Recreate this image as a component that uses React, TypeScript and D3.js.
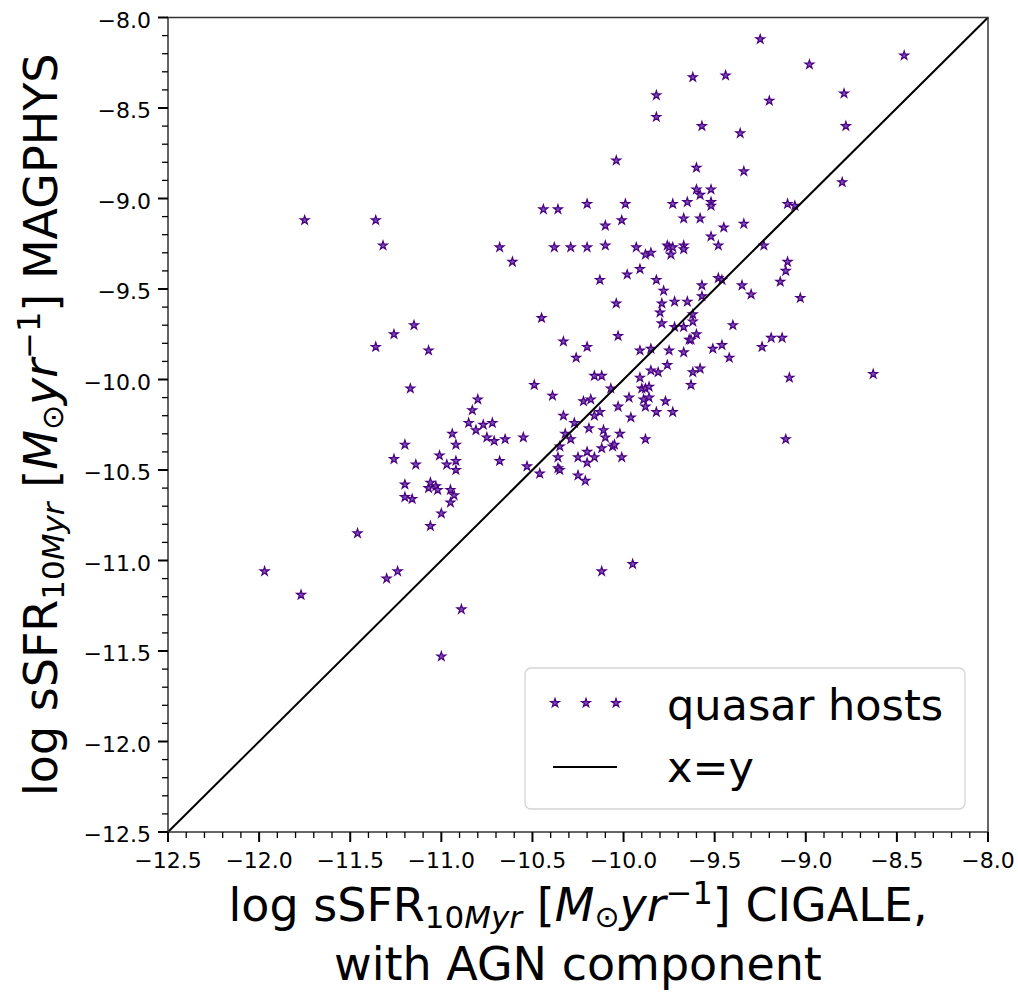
import * as d3 from 'd3';

// log sSFR_10Myr, CIGALE with AGN component (x) vs MAGPHYS (y)
const cigale = [
  -11.75, -11.36, -11.32, -10.68, -10.61, -10.44, -10.36, -10.38, -10.29, -10.2,
  -10.2, -9.25, -8.46, -8.98, -9.62, -9.44, -8.79, -9.82, -9.2, -9.82,
  -8.78, -9.57, -9.36, -10.04, -9.6, -9.34, -8.8, -9.6, -9.52, -9.58,
  -9.52, -9.52, -9.99, -9.73, -9.65, -9.1, -9.06, -10.1, -10.01, -9.67,
  -9.58, -9.45, -9.34, -9.52, -9.48, -9.23, -10.1, -9.93, -9.88, -9.85,
  -9.76, -9.75, -9.73, -9.74, -9.67, -9.67, -9.1, -9.11, -9.14, -9.03,
  -10.13, -9.98, -9.91, -9.82, -9.78, -9.57, -9.57, -9.48, -9.46, -9.35,
  -9.3, -10.45, -10.33, -10.26, -11.36, -11.26, -11.15, -11.07, -11.17, -10.8,
  -10.83, -10.49, -10.39, -10.33, -10.04, -9.79, -9.8, -9.72, -9.65, -9.62,
  -9.62, -9.79, -9.72, -9.67, -9.4, -9.6, -9.64, -9.63, -10.03, -10.2,
  -9.91, -9.85, -9.75, -9.67, -9.51, -9.46, -9.42, -9.24, -9.19, -9.13,
  -9.76, -9.85, -9.81, -9.62, -9.58, -9.63, -9.91, -10.16, -10.12, -10.07,
  -9.9, -9.88, -9.86, -9.97, -9.89, -9.86, -9.77, -10.22, -10.18, -10.03,
  -9.88, -9.82, -9.73, -10.13, -10.16, -9.96, -9.09, -8.63, -10.27, -10.19,
  -10.32, -10.29, -10.35, -10.36, -10.36, -10.35, -10.25, -10.2, -10.16, -10.2,
  -10.25, -10.21, -10.53, -10.46, -10.55, -10.65, -10.68, -10.71, -10.75, -10.72,
  -10.77, -10.81, -10.85, -10.94, -10.92, -11.01, -10.92, -10.97, -10.92, -11.2,
  -11.14, -11.26, -11.2, -11.2, -11.16, -11.07, -11.06, -11.03, -11.02, -10.95,
  -10.93, -10.95, -11.0, -11.06, -11.46, -11.97, -11.77, -11.3, -11.24, -10.89,
  -11.0, -10.11, -10.1, -10.02, -9.88, -10.06, -10.05, -10.12, -10.01, -9.11,
  -10.12, -9.95,
];

const magphys = [
  -9.12, -9.12, -9.26, -9.27, -9.35, -9.06, -9.06, -9.27, -9.27, -9.27,
  -9.03, -8.12, -8.21, -8.26, -8.33, -8.32, -8.42, -8.43, -8.46, -8.55,
  -8.6, -8.6, -8.64, -8.79, -8.83, -8.85, -8.91, -8.95, -8.95, -8.98,
  -9.02, -9.04, -9.03, -9.03, -9.02, -9.03, -9.04, -9.15, -9.12, -9.11,
  -9.11, -9.16, -9.14, -9.21, -9.26, -9.26, -9.26, -9.27, -9.31, -9.3,
  -9.26, -9.27, -9.27, -9.31, -9.26, -9.28, -9.35, -9.4, -9.46, -9.55,
  -9.45, -9.42, -9.39, -9.45, -9.51, -9.48, -9.54, -9.44, -9.45, -9.48,
  -9.53, -9.66, -9.79, -9.88, -9.82, -9.75, -9.7, -9.84, -10.05, -10.11,
  -10.17, -10.03, -10.09, -10.2, -9.58, -9.58, -9.63, -9.57, -9.57, -9.64,
  -9.68, -9.69, -9.71, -9.71, -9.7, -9.75, -9.78, -9.78, -9.76, -9.82,
  -9.84, -9.83, -9.84, -9.85, -9.83, -9.81, -9.88, -9.82, -9.77, -9.77,
  -9.92, -9.95, -9.96, -9.96, -9.94, -10.03, -9.99, -9.98, -9.98, -10.05,
  -10.05, -10.05, -10.04, -10.1, -10.11, -10.1, -10.12, -10.12, -10.11, -10.15,
  -10.15, -10.18, -10.18, -10.18, -10.2, -10.21, -9.99, -9.97, -10.24, -10.27,
  -10.3, -10.33, -10.37, -10.43, -10.49, -10.5, -10.43, -10.4, -10.43, -10.46,
  -10.53, -10.56, -10.48, -10.52, -10.32, -10.33, -10.45, -10.34, -10.32, -10.24,
  -10.25, -10.28, -10.24, -10.3, -10.36, -10.42, -10.45, -10.47, -10.5, -10.36,
  -10.47, -10.44, -10.58, -10.65, -10.66, -10.6, -10.57, -10.59, -10.61, -10.61,
  -10.64, -10.68, -10.74, -10.81, -10.85, -11.06, -11.19, -11.1, -11.06, -11.27,
  -11.53, -10.28, -10.32, -10.3, -10.33, -10.37, -10.36, -10.38, -10.43, -10.33,
  -11.06, -11.02,
];

const majorTicks = [-12.5, -12.0, -11.5, -11.0, -10.5, -10.0, -9.5, -9.0, -8.5, -8.0];
const domain: [number, number] = [-12.5, -8.0];
const seriesLabels = ['quasar hosts', 'x=y'];

const FONT = 'DejaVu Sans, sans-serif';
const STAR_FILL = '#7a50b8';
const STAR_EDGE = '#4b0082';

function AxisTitle({ tail }: { tail: string }) {
  return (
    <>
      <tspan>log sSFR</tspan>
      <tspan fontSize={31} dy={7}>10</tspan>
      <tspan fontSize={31} fontStyle="italic">Myr</tspan>
      <tspan dy={-7}>{' ['}</tspan>
      <tspan fontStyle="italic">M</tspan>
      <tspan fontSize={30} dy={6}>⊙</tspan>
      <tspan dy={-6} fontStyle="italic">yr</tspan>
      <tspan fontSize={32} dy={-17}>−1</tspan>
      <tspan dy={17}>{`] ${tail}`}</tspan>
    </>
  );
}

export default function App() {
  const left = 168, right = 988, top = 17.5, bottom = 832;
  const x = d3.scaleLinear().domain(domain).range([left, right]);
  const y = d3.scaleLinear().domain(domain).range([bottom, top]);
  const fmt = d3.format('.1f');
  const star = d3.symbol().type(d3.symbolStar).size(24)() || '';

  const minorTicks = d3.range(0, 46)
    .map(i => -12.5 + i * 0.1)
    .filter(v => !majorTicks.some(m => Math.abs(m - v) < 1e-6));

  const points = cigale.map((c, i) => [c, magphys[i]]);

  return (
    <svg
      width={1018}
      height={992}
      style={{ position: 'absolute', left: 0, top: 0, background: '#fff' }}
      fontFamily={FONT}
    >
      <rect x={0} y={0} width={1018} height={992} fill="#fff" />

      {/* scatter */}
      <g>
        {points.map(([c, m], i) => (
          <path
            key={i}
            d={star}
            transform={`translate(${x(c)},${y(m)})`}
            fill={STAR_FILL}
            stroke={STAR_EDGE}
            strokeWidth={1.2}
          />
        ))}
      </g>

      {/* x = y */}
      <line
        x1={x(domain[0])} y1={y(domain[0])}
        x2={x(domain[1])} y2={y(domain[1])}
        stroke="#000" strokeWidth={2}
      />

      {/* frame */}
      <rect x={left} y={top} width={right - left} height={bottom - top}
        fill="none" stroke="#333" strokeWidth={1.5} />

      {/* x ticks */}
      <g>
        {minorTicks.map((t, i) => (
          <line key={'xm' + i} x1={x(t)} x2={x(t)} y1={bottom} y2={bottom + 6} stroke="#000" strokeWidth={1.3} />
        ))}
        {majorTicks.map(t => (
          <g key={'x' + t}>
            <line x1={x(t)} x2={x(t)} y1={bottom} y2={bottom + 10} stroke="#000" strokeWidth={2} />
            <text x={x(t)} y={868} fontSize={22} textAnchor="middle" fill="#000">{fmt(t)}</text>
          </g>
        ))}
      </g>

      {/* y ticks */}
      <g>
        {minorTicks.map((t, i) => (
          <line key={'ym' + i} x1={left - 6} x2={left} y1={y(t)} y2={y(t)} stroke="#000" strokeWidth={1.3} />
        ))}
        {majorTicks.map(t => (
          <g key={'y' + t}>
            <line x1={left - 10} x2={left} y1={y(t)} y2={y(t)} stroke="#000" strokeWidth={2} />
            <text x={151} y={y(t) + 10} fontSize={22} textAnchor="end" fill="#000">{fmt(t)}</text>
          </g>
        ))}
      </g>

      {/* axis titles */}
      <text x={578} y={921} fontSize={46} textAnchor="middle" fill="#000">
        <AxisTitle tail="CIGALE," />
      </text>
      <text x={578} y={980} fontSize={46} textAnchor="middle" fill="#000">with AGN component</text>
      <text transform={`translate(57,${(top + bottom) / 2}) rotate(-90)`} fontSize={46} textAnchor="middle" fill="#000">
        <AxisTitle tail="MAGPHYS" />
      </text>

      {/* legend */}
      <g>
        <rect x={525} y={668} width={440} height={141} rx={6} ry={6}
          fill="#fff" fillOpacity={0.8} stroke="#d4d4d4" strokeWidth={1.3} />
        {[555, 586, 616].map(px => (
          <path key={px} d={star} transform={`translate(${px},703)`}
            fill={STAR_FILL} stroke={STAR_EDGE} strokeWidth={1.2} />
        ))}
        <text x={667} y={720} fontSize={43} fill="#000">{seriesLabels[0]}</text>
        <line x1={553} x2={617} y1={767} y2={767} stroke="#000" strokeWidth={2} />
        <text x={667} y={782} fontSize={43} fill="#000">{seriesLabels[1]}</text>
      </g>
    </svg>
  );
}
